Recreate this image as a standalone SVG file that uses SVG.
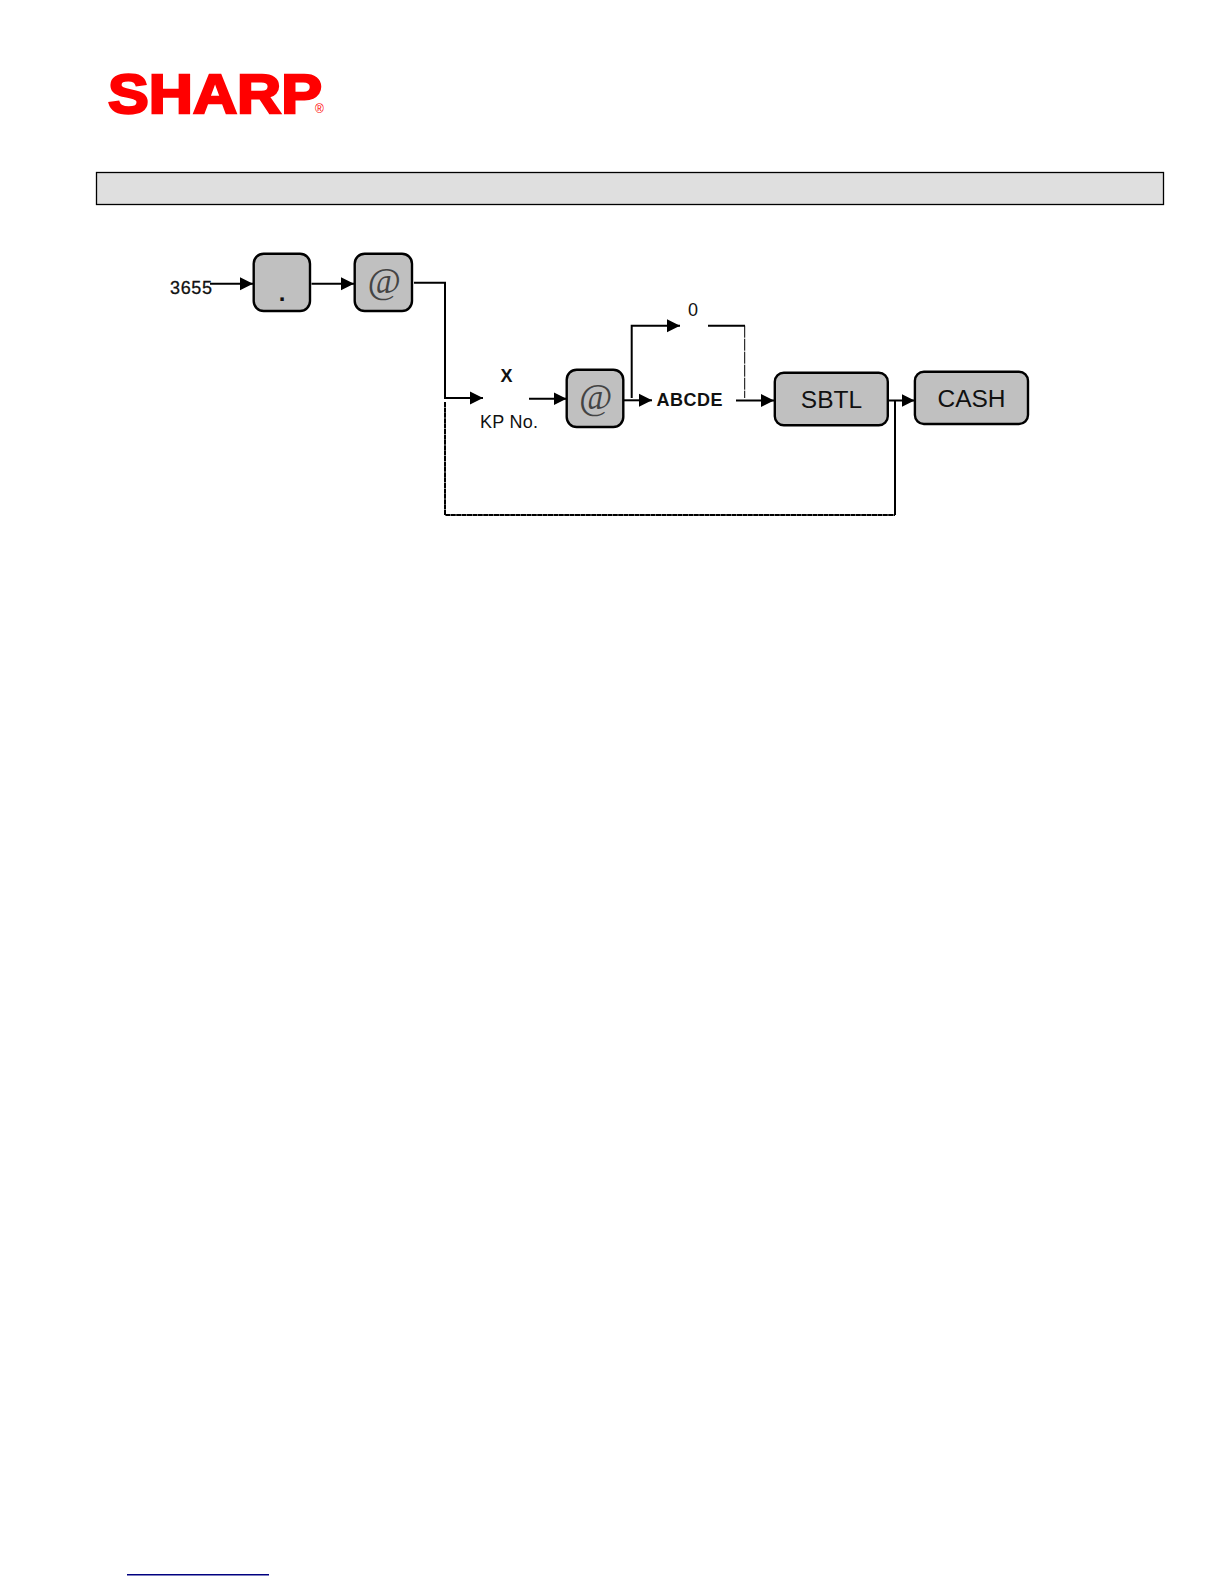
<svg xmlns="http://www.w3.org/2000/svg" width="1224" height="1584" viewBox="0 0 1224 1584">
<style>
text{font-family:"Liberation Sans",Arial,sans-serif;fill:#111}
.key{fill:#c0c0c0;stroke:#000;stroke-width:2.400}
.c{fill:none;stroke:#000;stroke-width:2}
.d{fill:none;stroke:#000;stroke-width:2;stroke-dasharray:5 0.400}
.t{fill:none;stroke:#000;stroke-width:1;stroke-dasharray:12 1}
.lab{font-size:18px}
.b{font-weight:bold}
.big{font-size:24.500px;text-anchor:middle}
.at{font-family:"Liberation Serif","Times New Roman",serif;font-style:italic;font-size:36px;text-anchor:middle;fill:#444}
</style>
<defs>
<marker id="a" markerUnits="userSpaceOnUse" markerWidth="14" markerHeight="14" refX="13" refY="7" orient="auto"><path d="M0 0.500L13 7L0 13.500Z" fill="#000"/></marker>
</defs>
<rect width="1224" height="1584" fill="#fff"/>
<g id="logo">
<text x="108" y="112.500" font-size="55" font-weight="bold" textLength="214" lengthAdjust="spacingAndGlyphs" style="fill:#f00;stroke:#f00;stroke-width:2.400">SHARP</text>
<text x="315" y="113" font-size="12" style="fill:#f00">®</text>
</g>
<rect id="header" x="96.500" y="172.500" width="1067" height="32" fill="#dfdfdf" stroke="#000" stroke-width="1.300"/>
<g id="connectors">
<path class="c" d="M210 283.700H253" marker-end="url(#a)"/>
<path class="c" d="M311.500 283.700H354" marker-end="url(#a)"/>
<path class="c" d="M414 282.700H445V398H483" marker-end="url(#a)"/>
<path class="d" d="M445 402V515H895"/>
<path class="c" d="M895 515V401"/>
<path class="c" d="M529 398.700H566.500" marker-end="url(#a)"/>
<path class="c" d="M624 400.300H652" marker-end="url(#a)"/>
<path class="c" d="M631.700 398V325.700H680" marker-end="url(#a)"/>
<path class="c" d="M708 325.700H745"/>
<path class="t" d="M744.700 325.700V398"/>
<path class="c" d="M736 400.500H774" marker-end="url(#a)"/>
<path class="c" d="M888 400.500H914.500" marker-end="url(#a)"/>
</g>
<g id="n3655"><text class="lab" x="170" y="294" stroke="#111" stroke-width="0.300" textLength="42">3655</text></g>
<g id="keyDot"><rect class="key" x="253.700" y="253.700" width="56.300" height="57.300" rx="10"/><text x="282" y="301" font-size="24" font-weight="bold" text-anchor="middle">.</text></g>
<g id="keyAt1"><rect class="key" x="354.700" y="253.700" width="57.300" height="57.300" rx="10"/><text class="at" x="384" y="293">@</text></g>
<g id="nX"><text class="lab b" x="506.500" y="382" text-anchor="middle">X</text><text class="lab" x="480" y="427.700" textLength="58">KP No.</text></g>
<g id="keyAt2"><rect class="key" x="566.700" y="369.700" width="56.600" height="57.300" rx="10"/><text class="at" x="595.500" y="409">@</text></g>
<g id="nZero"><text class="lab" x="688" y="315.700">0</text></g>
<g id="nABCDE"><text class="lab b" x="656.500" y="405.700" textLength="66">ABCDE</text></g>
<g id="keySBTL"><rect class="key" x="774.800" y="372.700" width="113" height="52.600" rx="9"/><text class="big" x="831.500" y="407.700">SBTL</text></g>
<g id="keyCASH"><rect class="key" x="914.900" y="371.700" width="113.100" height="52.300" rx="9"/><text class="big" x="971.500" y="406.700">CASH</text></g>
<rect id="footerRule" x="127" y="1574" width="142" height="1.500" fill="#000080"/>
</svg>
